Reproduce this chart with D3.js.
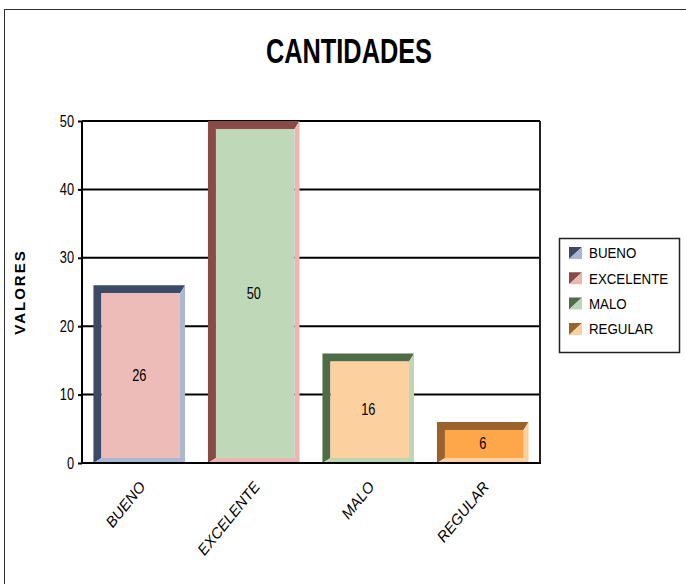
<!DOCTYPE html>
<html>
<head>
<meta charset="utf-8">
<script src="https://cdn.jsdelivr.net/npm/d3@7"></script>
<style>
  body { margin: 0; background: #fff; }
  svg text { font-family: "Liberation Sans", Arial, sans-serif; fill: #000; }
</style>
</head>
<body>
<div id="chart"></div>
<script>
const categories = ["BUENO", "EXCELENTE", "MALO", "REGULAR"];
const values = [26, 50, 16, 6];
const darkColors = ["#3c4a66", "#8a4a48", "#4e6d47", "#9a632e"];
const lightColors = ["#a9b8d2", "#ebb7b3", "#bcd7b4", "#fdd0a0"];
const faceColors = ["#edbcb8", "#bed8b8", "#fdd0a0", "#fda64a"];
const yTicks = [0, 10, 20, 30, 40, 50];

const width = 686, height = 584;
const plotLeft = 82, plotRight = 540, plotTop = 121, plotBottom = 463;
const dark = 8, light = 5;
const narrow = 0.8;

const svg = d3.select("#chart").append("svg")
  .attr("width", width)
  .attr("height", height);

// outer frame
svg.append("rect")
  .attr("x", 4.5).attr("y", 9.5)
  .attr("width", 720).attr("height", 620)
  .attr("fill", "none").attr("stroke", "#333").attr("stroke-width", 1);

const x = d3.scaleBand()
  .domain(categories)
  .range([plotLeft, plotRight])
  .paddingInner(0.2)
  .paddingOuter(0.1);

const y = d3.scaleLinear()
  .domain([0, 50])
  .range([plotBottom, plotTop]);

// gridlines
svg.append("g").selectAll("line")
  .data(yTicks.filter(d => d > 0))
  .enter().append("line")
  .attr("x1", plotLeft).attr("x2", plotRight)
  .attr("y1", d => y(d)).attr("y2", d => y(d))
  .attr("stroke", "#000").attr("stroke-width", 2);

// y axis
const yAxis = svg.append("g")
  .attr("transform", "translate(" + plotLeft + ",0)")
  .call(d3.axisLeft(y).tickValues(yTicks).tickSize(4).tickPadding(4));
yAxis.select(".domain").remove();
yAxis.attr("font-family", null).attr("font-size", null);
yAxis.selectAll(".tick line").attr("stroke", "#000").attr("stroke-width", 2);
yAxis.selectAll(".tick text")
  .attr("x", 0)
  .attr("transform", "translate(-8,0) scale(" + narrow + ",1)")
  .attr("font-size", 16);

// bars with bevel
const bars = svg.append("g").selectAll("g")
  .data(values)
  .enter().append("g");

function pts(a) { return a.map(p => p.join(",")).join(" "); }

bars.each(function(d, i) {
  const g = d3.select(this);
  const x0 = x(categories[i]), x1 = x0 + x.bandwidth();
  const y0 = y(d), y1 = y(0);
  g.append("polygon")
    .attr("points", pts([[x0, y0], [x1, y0], [x1 - light, y0 + dark], [x0 + dark, y0 + dark], [x0 + dark, y1 - light], [x0, y1]]))
    .attr("fill", darkColors[i]);
  g.append("polygon")
    .attr("points", pts([[x1, y0], [x1, y1], [x0, y1], [x0 + dark, y1 - light], [x1 - light, y1 - light], [x1 - light, y0 + dark]]))
    .attr("fill", lightColors[i]);
  g.append("rect")
    .attr("x", x0 + dark).attr("y", y0 + dark)
    .attr("width", x1 - x0 - dark - light)
    .attr("height", y1 - y0 - dark - light)
    .attr("fill", faceColors[i]);
  g.append("text")
    .attr("transform", "translate(" + (x0 + x1) / 2 + "," + ((y0 + y1) / 2 + 1) + ") scale(" + narrow + ",1)")
    .attr("dy", "0.35em")
    .attr("text-anchor", "middle")
    .attr("font-size", 16)
    .text(d);
});

// axes lines
svg.append("line")
  .attr("x1", plotLeft).attr("x2", plotLeft).attr("y1", plotTop).attr("y2", plotBottom)
  .attr("stroke", "#000").attr("stroke-width", 2);
svg.append("line")
  .attr("x1", plotRight).attr("x2", plotRight).attr("y1", plotTop).attr("y2", plotBottom + 1)
  .attr("stroke", "#222").attr("stroke-width", 2);
svg.append("line")
  .attr("x1", plotLeft - 1).attr("x2", plotRight + 1).attr("y1", plotBottom).attr("y2", plotBottom)
  .attr("stroke", "#000").attr("stroke-width", 2);

// x labels
svg.append("g").selectAll("text")
  .data(categories)
  .enter().append("text")
  .attr("transform", d => "translate(" + (x(d) + x.bandwidth() / 2 + 7) + "," + 487 + ") rotate(-51)")
  .attr("text-anchor", "end")
  .attr("font-size", 15)
  .attr("font-style", "italic")
  .text(d => d);

// title
svg.append("text")
  .attr("x", 349).attr("y", 63)
  .attr("text-anchor", "middle")
  .attr("font-size", 35)
  .attr("font-weight", "bold")
  .attr("textLength", 166)
  .attr("lengthAdjust", "spacingAndGlyphs")
  .text("CANTIDADES");

// y title
svg.append("text")
  .attr("transform", "translate(25,292) rotate(-90)")
  .attr("text-anchor", "middle")
  .attr("font-size", 15)
  .attr("font-weight", "bold")
  .attr("letter-spacing", 2)
  .text("VALORES");

// legend
const legend = svg.append("g");
legend.append("rect")
  .attr("x", 559.5).attr("y", 238.5)
  .attr("width", 120).attr("height", 114)
  .attr("fill", "#fff").attr("stroke", "#222").attr("stroke-width", 1.5);

const items = legend.selectAll("g")
  .data(categories)
  .enter().append("g")
  .attr("transform", (d, i) => "translate(569," + (247 + i * 25.3) + ")");
items.append("polygon")
  .attr("points", "0,0 13,0 0,12")
  .attr("fill", (d, i) => darkColors[i]);
items.append("polygon")
  .attr("points", "13,0 13,12 0,12")
  .attr("fill", (d, i) => lightColors[i]);
items.append("text")
  .attr("transform", "translate(20,6) scale(0.86,1)")
  .attr("dy", "0.35em")
  .attr("font-size", 15.5)
  .text(d => d);
</script>
</body>
</html>
